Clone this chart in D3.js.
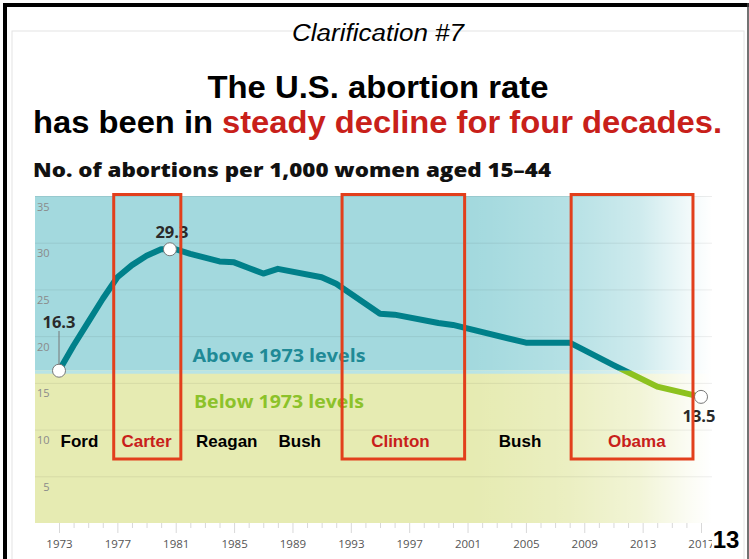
<!DOCTYPE html>
<html lang="en">
<head>
  <meta charset="UTF-8">
  <title>U.S. abortion rate, 1973-2017</title>
  <script src="https://d3js.org/d3.v7.min.js"></script>
</head>

<body style="margin:0;background:#fff">

<style>
  text { font-family: "Open Sans", sans-serif; }
  .title { font-family: "Liberation Sans", Arial, sans-serif; font-weight: bold; }
  .pres { font-family: "Liberation Sans", Arial, sans-serif; font-weight: bold; font-size: 17px; }
</style>

<div id="chart"></div>

<script>

// values
var years = [1973, 1974, 1975, 1976, 1977, 1978, 1979, 1980, 1981, 1982, 1983, 1984, 1985, 1986, 1987, 1988,
             1991, 1992, 1995, 1996, 1999, 2000, 2005, 2008, 2011, 2014, 2017];
var rates = [16.3, 19.0, 21.5, 24.0, 26.3, 27.6, 28.6, 29.3, 29.3, 28.8, 28.4, 28.0, 27.9, 27.3, 26.7, 27.2,
             26.3, 25.6, 22.4, 22.3, 21.4, 21.2, 19.3, 19.3, 16.9, 14.6, 13.5];

var tickYears = [1973, 1977, 1981, 1985, 1989, 1993, 1997, 2001, 2005, 2009, 2013, 2017];
var yTicks = [5, 10, 15, 20, 25, 30, 35];

var presNames = ["Ford", "Carter", "Reagan", "Bush", "Clinton", "Bush", "Obama"];
var presMid   = [1974.4, 1979.0, 1984.5, 1989.5, 1996.4, 2004.6, 2012.6];
var presRed   = [false, true, false, false, true, false, true];

var boxFrom = [1976.75, 1992.4, 2008.1];
var boxTo   = [1981.35, 2000.8, 2016.45];

var calloutYear  = [1973, 1980.6, 2017];
var calloutValue = [16.3, 29.3, 13.5];
var calloutLabel = ["16.3", "29.3", "13.5"];

var W = 749, H = 559;
var plot = {left: 35, right: 712, top: 196, bottom: 523};

var svg = d3.select('#chart').append('svg')
  .attr("width", W)
  .attr("height", H);

var x = d3.scaleLinear().domain([1973, 2017]).range([59, 701]);
var y = d3.scaleLinear().domain([0, 35]).range([plot.bottom, plot.top]);

var base = rates[0];
var yBase = y(base);

// slide frame
svg.append("rect").attr("x", 12).attr("y", 31).attr("width", 732).attr("height", 540)
  .attr("fill", "none").attr("stroke", "#e4e4e4");
svg.append("line").attr("x1", 3).attr("x2", W).attr("y1", 5).attr("y2", 5)
  .attr("stroke", "#000").attr("stroke-width", 4);
svg.append("line").attr("x1", 5).attr("x2", 5).attr("y1", 3).attr("y2", H)
  .attr("stroke", "#000").attr("stroke-width", 4);
svg.append("line").attr("x1", 748).attr("x2", 748).attr("y1", 3).attr("y2", H)
  .attr("stroke", "#444").attr("stroke-width", 1.5);

// titles
svg.append("text")
  .attr("x", 378).attr("y", 41)
  .attr("text-anchor", "middle")
  .style("font-family", "'Liberation Sans', Arial, sans-serif")
  .style("font-style", "italic").style("font-weight", "normal")
  .attr("font-size", 23)
  .attr("textLength", 172).attr("lengthAdjust", "spacingAndGlyphs")
  .text("Clarification #7");

svg.append("text").attr("class", "title")
  .attr("x", 378).attr("y", 98)
  .attr("text-anchor", "middle")
  .attr("font-size", 31)
  .attr("textLength", 341).attr("lengthAdjust", "spacingAndGlyphs")
  .text("The U.S. abortion rate");

svg.append("text").attr("class", "title")
  .attr("x", 33).attr("y", 133)
  .attr("font-size", 31)
  .attr("textLength", 180).attr("lengthAdjust", "spacingAndGlyphs")
  .text("has been in");

svg.append("text").attr("class", "title")
  .attr("x", 222).attr("y", 133)
  .attr("font-size", 31).attr("fill", "#c8201a")
  .attr("textLength", 500).attr("lengthAdjust", "spacingAndGlyphs")
  .text("steady decline for four decades.");

svg.append("text")
  .attr("x", 33).attr("y", 177)
  .attr("font-size", 19).attr("font-weight", 800).attr("fill", "#111")
  .attr("textLength", 518).attr("lengthAdjust", "spacingAndGlyphs")
  .text("No. of abortions per 1,000 women aged 15\u201344");

// backgrounds
svg.append("rect")
  .attr("x", plot.left).attr("y", plot.top)
  .attr("width", plot.right - plot.left).attr("height", yBase - plot.top)
  .attr("fill", "#a3d9de");
svg.append("rect")
  .attr("x", plot.left).attr("y", yBase)
  .attr("width", plot.right - plot.left).attr("height", plot.bottom - yBase)
  .attr("fill", "#e6ebb2");
svg.append("rect")
  .attr("x", plot.left).attr("y", yBase)
  .attr("width", plot.right - plot.left).attr("height", 3)
  .attr("fill", "#b8e4e6");

var defs = svg.append("defs");
var fade = defs.append("linearGradient").attr("id", "fade")
  .attr("gradientUnits", "userSpaceOnUse")
  .attr("x1", 470).attr("x2", plot.right).attr("y1", 0).attr("y2", 0);
[[0, 0], [0.12, 0.05], [0.4, 0.2], [0.7, 0.47], [0.9, 0.85], [1, 1]].forEach(function(s) {
  fade.append("stop").attr("offset", s[0]).attr("stop-color", "#fff").attr("stop-opacity", s[1]);
});
svg.append("rect")
  .attr("x", 470).attr("y", plot.top)
  .attr("width", plot.right - 470 + 1).attr("height", plot.bottom - plot.top)
  .attr("fill", "url(#fade)");

// gridlines + y labels
var yAxis = svg.append("g")
  .attr("transform", "translate(" + plot.left + ",0)")
  .call(d3.axisLeft(y).tickValues(yTicks).tickSize(-(plot.right - plot.left)).tickFormat(d3.format("d")));
yAxis.select(".domain").remove();
yAxis.selectAll(".tick line").attr("stroke", "#000").attr("stroke-opacity", 0.07);
yAxis.selectAll(".tick text")
  .attr("x", 14.5).attr("dy", 14)
  .attr("text-anchor", "end")
  .attr("font-family", "Open Sans, sans-serif")
  .attr("font-size", 11).attr("fill", "#8a8a8a");

// x axis
var xAxis = svg.append("g")
  .attr("transform", "translate(0," + plot.bottom + ")")
  .call(d3.axisBottom(x).tickValues(d3.range(1973, 2018))
    .tickSize(5).tickFormat(function(d) { return tickYears.indexOf(d) >= 0 ? d : ""; }));
xAxis.select(".domain").remove();
xAxis.selectAll(".tick line").attr("stroke", "#d8d8d8")
  .attr("y2", function(d) { return tickYears.indexOf(d) >= 0 ? 10 : 5; });
xAxis.selectAll(".tick text")
  .attr("y", 0).attr("dy", 25)
  .attr("font-family", "Open Sans, sans-serif")
  .attr("font-size", 11.5).attr("fill", "#555");

// zone labels
svg.append("text")
  .attr("x", 279).attr("y", 362).attr("text-anchor", "middle")
  .attr("font-size", 17).attr("font-weight", 700).attr("fill", "#1f8a96")
  .attr("textLength", 173).attr("lengthAdjust", "spacingAndGlyphs")
  .text("Above 1973 levels");
svg.append("text")
  .attr("x", 279).attr("y", 408).attr("text-anchor", "middle")
  .attr("font-size", 17).attr("font-weight", 700).attr("fill", "#8cc22a")
  .attr("textLength", 170).attr("lengthAdjust", "spacingAndGlyphs")
  .text("Below 1973 levels");

// the line, teal above the 1973 level and green below
var data = years.map(function(d, i) { return {year: d, rate: rates[i]}; });
var line = d3.line()
  .x(function(d) { return x(d.year); })
  .y(function(d) { return y(d.rate); });

defs.append("clipPath").attr("id", "above").append("rect")
  .attr("x", 0).attr("y", 0).attr("width", W).attr("height", yBase);
defs.append("clipPath").attr("id", "below").append("rect")
  .attr("x", 0).attr("y", yBase).attr("width", W).attr("height", H - yBase);

svg.append("path").datum(data)
  .attr("clip-path", "url(#above)")
  .attr("fill", "none").attr("stroke", "#00808a").attr("stroke-width", 6)
  .attr("stroke-linejoin", "round").attr("stroke-linecap", "round")
  .attr("d", line);
svg.append("path").datum(data)
  .attr("clip-path", "url(#below)")
  .attr("fill", "none").attr("stroke", "#8dc21f").attr("stroke-width", 6)
  .attr("stroke-linejoin", "round").attr("stroke-linecap", "round")
  .attr("d", line);

// callouts
svg.append("line")
  .attr("x1", x(calloutYear[0])).attr("x2", x(calloutYear[0]))
  .attr("y1", 331).attr("y2", y(calloutValue[0]) - 5)
  .attr("stroke", "#777").attr("stroke-width", 1);

svg.selectAll("circle.pt")
  .data(calloutYear)
  .enter().append("circle")
  .attr("class", "pt")
  .attr("cx", function(d) { return x(d); })
  .attr("cy", function(d, i) { return y(calloutValue[i]); })
  .attr("r", 6.5)
  .attr("fill", "#fff").attr("stroke", "#777").attr("stroke-width", 1);

var labelDx = [0, 2, -2];
var labelDy = [-43, -11, 25];
svg.selectAll("text.val")
  .data(calloutYear)
  .enter().append("text")
  .attr("class", "val")
  .attr("x", function(d, i) { return x(d) + labelDx[i]; })
  .attr("y", function(d, i) { return y(calloutValue[i]) + labelDy[i]; })
  .attr("text-anchor", "middle")
  .attr("font-size", 16.5).attr("font-weight", 700).attr("fill", "#2a2a2a")
  .text(function(d, i) { return calloutLabel[i]; });

// presidents
svg.selectAll("text.pres")
  .data(presNames)
  .enter().append("text")
  .attr("class", "pres")
  .attr("x", function(d, i) { return x(presMid[i]); })
  .attr("y", 447)
  .attr("text-anchor", "middle")
  .attr("fill", function(d, i) { return presRed[i] ? "#c8201a" : "#000"; })
  .text(function(d) { return d; });

svg.selectAll("rect.box")
  .data(boxFrom)
  .enter().append("rect")
  .attr("class", "box")
  .attr("x", function(d) { return x(d); })
  .attr("y", 194.5)
  .attr("width", function(d, i) { return x(boxTo[i]) - x(d); })
  .attr("height", 459 - 194.5)
  .attr("fill", "none").attr("stroke", "#e23f1c").attr("stroke-width", 3);

// page number
svg.append("rect").attr("x", 712).attr("y", 527).attr("width", 30).attr("height", 28).attr("fill", "#fff");
svg.append("text").attr("class", "title")
  .attr("x", 726).attr("y", 548).attr("text-anchor", "middle")
  .attr("font-size", 24).attr("fill", "#000")
  .text("13");

</script>

</body>
</html>
